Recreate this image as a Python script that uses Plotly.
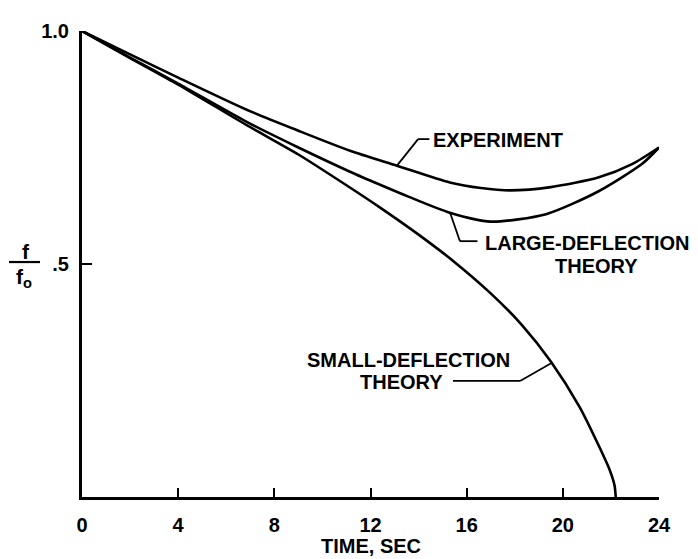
import plotly.graph_objects as go

# ---- data ----
t_exp = [0, 2, 4, 6.85, 9, 11.15, 13.1, 15.3, 16.6, 17.8, 19.5, 21.5, 22.9, 24]
f_exp = [1.0, 0.950, 0.900, 0.831, 0.786, 0.743, 0.711, 0.675, 0.663, 0.658, 0.665, 0.686, 0.715, 0.750]

t_large = [0, 2, 4, 6.85, 9, 11.15, 12.4, 13.6, 15.3, 17.0, 19.3, 21.45, 23.3, 24]
f_large = [1.0, 0.943, 0.887, 0.805, 0.750, 0.698, 0.670, 0.644, 0.610, 0.591, 0.607, 0.655, 0.715, 0.750]

t_small = [0, 2, 4, 6.85, 9, 11, 12.4, 14, 15.5, 17, 18.3, 19.5, 20.7, 21.55, 21.95, 22.15, 22.2]
f_small = [1.0, 0.942, 0.885, 0.798, 0.735, 0.669, 0.621, 0.563, 0.504, 0.437, 0.369, 0.291, 0.193, 0.104, 0.058, 0.025, 0.0]

x_ticks = [0, 4, 8, 12, 16, 20, 24]
x_tick_text = ["0", "4", "8", "12", "16", "20", "24"]
y_ticks = [0.5, 1.0]
y_tick_text = [".5", "1.0"]

FONT = "Liberation Sans"
OFF = 8                      # page body margin in the browser
W, H = 698 - OFF, 559 - OFF  # figure fits the window exactly
# plot area in screen pixels: x 82..659, y 23..497
ML, MR, MT, MB = 82 - OFF, 698 - 659, 23 - OFF, 559 - 497
PW, PH = 659 - 82, 497 - 23


def px(x):
    return (x - 82) / PW


def py(y):
    return (497 - y) / PH


fig = go.Figure()
for tt, ff, nm in [(t_exp, f_exp, "Experiment"),
                   (t_large, f_large, "Large-deflection theory"),
                   (t_small, f_small, "Small-deflection theory")]:
    fig.add_trace(go.Scatter(x=tt, y=ff, mode="lines", name=nm,
                             line=dict(color="black", width=2.6, shape="spline", smoothing=0.7),
                             showlegend=False, hoverinfo="skip"))

tf = dict(family=FONT, size=20, color="black", weight="bold")
ff_font = dict(family=FONT, size=21, color="black", weight="bold")

annotations = [
    dict(x=17.3, y=0.766, text="EXPERIMENT", xref="x", yref="y", showarrow=False, font=tf,
         xanchor="center", yanchor="middle"),
    dict(x=21.0, y=0.546, text="LARGE-DEFLECTION", xref="x", yref="y", showarrow=False, font=tf,
         xanchor="center", yanchor="middle"),
    dict(x=21.4, y=0.496, text="THEORY", xref="x", yref="y", showarrow=False, font=tf,
         xanchor="center", yanchor="middle"),
    dict(x=13.6, y=0.293, text="SMALL-DEFLECTION", xref="x", yref="y", showarrow=False, font=tf,
         xanchor="center", yanchor="middle"),
    dict(x=13.3, y=0.247, text="THEORY", xref="x", yref="y", showarrow=False, font=tf,
         xanchor="center", yanchor="middle"),
    dict(x=px(371), y=py(547), text="TIME, SEC", xref="paper", yref="paper", showarrow=False,
         font=tf, xanchor="center", yanchor="middle"),
    dict(x=px(26), y=py(247), text="f", xref="paper", yref="paper", showarrow=False,
         font=ff_font, xanchor="center", yanchor="middle"),
    dict(x=px(24), y=py(274), text="f<sub>o</sub>", xref="paper", yref="paper", showarrow=False,
         font=ff_font, xanchor="center", yanchor="middle"),
]

lw = dict(color="black", width=1.8)
shapes = [
    # experiment leader
    dict(type="line", xref="x", yref="y", x0=14.45, y0=0.768, x1=13.98, y1=0.768, line=lw),
    dict(type="line", xref="x", yref="y", x0=13.98, y0=0.768, x1=13.1, y1=0.711, line=lw),
    # large-deflection leader
    dict(type="line", xref="x", yref="y", x0=16.45, y0=0.549, x1=15.72, y1=0.549, line=lw),
    dict(type="line", xref="x", yref="y", x0=15.72, y0=0.549, x1=15.31, y1=0.61, line=lw),
    # small-deflection leader
    dict(type="line", xref="x", yref="y", x0=15.43, y0=0.249, x1=18.22, y1=0.249, line=lw),
    dict(type="line", xref="x", yref="y", x0=18.22, y0=0.249, x1=19.55, y1=0.288, line=lw),
    # fraction bar
    dict(type="line", xref="paper", yref="paper", x0=px(9), y0=py(258), x1=px(40), y1=py(258),
         line=dict(color="black", width=2.2)),
]

fig.update_layout(
    width=W, height=H,
    margin=dict(l=ML, r=MR, t=MT, b=MB),
    paper_bgcolor="white", plot_bgcolor="white",
    annotations=annotations, shapes=shapes,
    xaxis=dict(range=[0, 24], tickvals=x_ticks, ticktext=x_tick_text, showgrid=False, zeroline=False,
               showline=True, linecolor="black", linewidth=3, ticks="inside", ticklen=9, tickwidth=2,
               tickcolor="black", tickfont=tf, ticklabelstandoff=8),
    yaxis=dict(range=[0, 1.0], tickvals=y_ticks, ticktext=y_tick_text, showgrid=False, zeroline=False,
               showline=True, linecolor="black", linewidth=3, ticks="inside", ticklen=10, tickwidth=2,
               tickcolor="black", tickfont=tf, ticklabelstandoff=6),
)

fig.write_html("out.html")
